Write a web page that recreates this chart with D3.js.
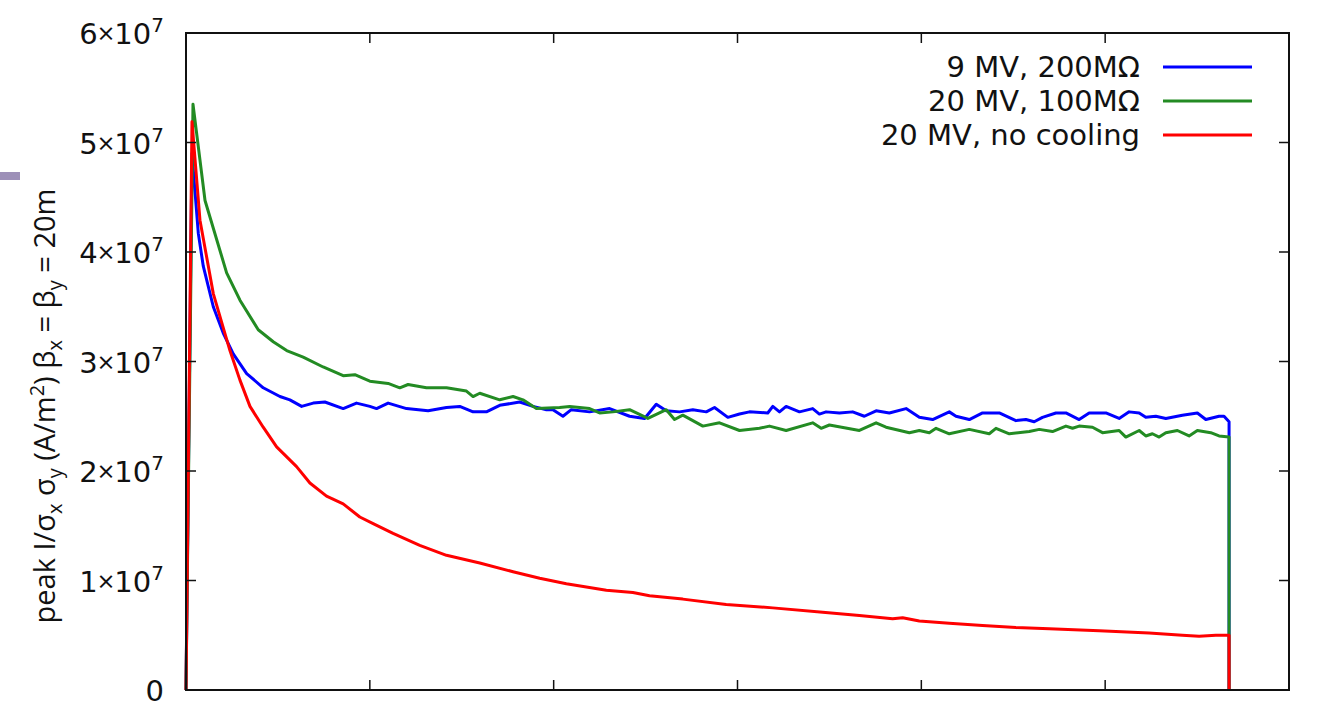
<!DOCTYPE html>
<html>
<head>
<meta charset="utf-8">
<script src="https://cdn.jsdelivr.net/npm/d3@7"></script>
<style>
  body { margin: 0; background: #fff; }
  text { font-family: "DejaVu Sans", sans-serif; fill: #111; }
</style>
</head>
<body>
<svg id="chart" width="1324" height="705"></svg>
<script>
// chart values (x in arbitrary units, y in units of 1e7 A/m^2)
const seriesNames = ["9 MV, 200MΩ", "20 MV, 100MΩ", "20 MV, no cooling"];
const seriesColors = ["#0000ff", "#238b23", "#ff0000"];

const blueX = [0, 6.5, 13.4, 18.8, 29.7, 40.5, 51.4, 66, 84, 102.2, 113, 125.8, 138.4, 151.1, 171, 185.5, 200, 207.3, 219.9, 239.9, 263.4, 283.4, 297.8, 312.3, 326.8, 341.3, 363, 377.5, 392.1, 399.2, 410.1, 419.2, 439.1, 460.9, 482.6, 498.9, 511.6, 522.5, 537, 551.4, 566, 575, 589.5, 602.2, 613, 632.9, 638.4, 645.7, 652.9, 667.4, 681.8, 689.1, 696.4, 710.9, 725.3, 738, 750.8, 765.2, 783.4, 797.8, 812.3, 830.4, 837.7, 852.2, 866.6, 884.8, 902.9, 913.8, 922.8, 931.8, 946.4, 957.3, 971.7, 982.6, 1000.8, 1015.2, 1026.1, 1037, 1044.2, 1055.1, 1066, 1084, 1100.3, 1109.5, 1123.9, 1129.3, 1134.8, 1134.8];
const blueY = [0, 4.9, 4.17, 3.87, 3.5, 3.26, 3.07, 2.89, 2.76, 2.68, 2.65, 2.59, 2.62, 2.63, 2.57, 2.62, 2.59, 2.57, 2.62, 2.57, 2.55, 2.58, 2.59, 2.54, 2.54, 2.6, 2.63, 2.59, 2.56, 2.56, 2.5, 2.56, 2.54, 2.57, 2.5, 2.48, 2.61, 2.55, 2.54, 2.56, 2.54, 2.58, 2.49, 2.52, 2.54, 2.53, 2.59, 2.54, 2.59, 2.54, 2.57, 2.52, 2.54, 2.53, 2.54, 2.5, 2.55, 2.53, 2.57, 2.49, 2.47, 2.54, 2.5, 2.47, 2.53, 2.53, 2.46, 2.47, 2.45, 2.49, 2.53, 2.53, 2.47, 2.53, 2.53, 2.48, 2.54, 2.53, 2.49, 2.5, 2.48, 2.51, 2.53, 2.47, 2.5, 2.5, 2.45, 0];

const greenX = [0, 7.6, 20.7, 44.2, 58.7, 78.6, 94.9, 109.5, 127.5, 149.2, 171, 183.7, 200, 219.9, 232.6, 241.6, 261.6, 283.4, 305.1, 312.3, 319.6, 341.3, 355.8, 366.6, 381.2, 406.5, 417.4, 439.1, 450, 464.5, 482.6, 502.5, 522.5, 531.5, 540.5, 562.3, 580.4, 602.2, 623.9, 634.8, 652.9, 681.8, 691, 700, 732.6, 750.8, 761.6, 787, 797.8, 808.7, 816, 830.4, 852.2, 873.9, 881.2, 895.7, 917.4, 928.3, 942.7, 957.3, 964.5, 971.7, 986.2, 997.1, 1015.2, 1022.5, 1037, 1044.2, 1051.4, 1058.7, 1066, 1078.6, 1091.3, 1100.3, 1114.9, 1123.9, 1134.8, 1134.8];
const greenY = [0, 5.35, 4.47, 3.81, 3.56, 3.29, 3.18, 3.1, 3.04, 2.95, 2.87, 2.88, 2.82, 2.8, 2.76, 2.79, 2.76, 2.76, 2.73, 2.68, 2.71, 2.65, 2.68, 2.65, 2.57, 2.58, 2.59, 2.57, 2.53, 2.54, 2.56, 2.48, 2.56, 2.47, 2.51, 2.41, 2.44, 2.37, 2.39, 2.41, 2.37, 2.44, 2.39, 2.42, 2.37, 2.44, 2.4, 2.35, 2.37, 2.35, 2.39, 2.34, 2.38, 2.34, 2.39, 2.34, 2.36, 2.38, 2.36, 2.41, 2.39, 2.41, 2.4, 2.35, 2.37, 2.31, 2.37, 2.32, 2.34, 2.31, 2.35, 2.37, 2.32, 2.37, 2.35, 2.32, 2.31, 0];

const redX = [0, 6.5, 15.2, 29.7, 47.8, 58.7, 69.6, 84, 98.6, 120.3, 134.8, 152.9, 171, 189.1, 203.6, 225.3, 254.3, 283.4, 319.6, 355.8, 384.8, 413.8, 457.3, 486.2, 504.3, 540.5, 587.7, 638.4, 692.7, 732.6, 768.8, 779.7, 797.8, 830.4, 866.6, 902.9, 939.1, 993.5, 1047.8, 1084, 1102.2, 1120.4, 1134.8, 1134.8];
const redY = [0, 5.19, 4.29, 3.62, 3.1, 2.83, 2.59, 2.4, 2.22, 2.04, 1.89, 1.77, 1.7, 1.58, 1.52, 1.43, 1.32, 1.23, 1.16, 1.08, 1.02, 0.97, 0.91, 0.89, 0.86, 0.83, 0.78, 0.75, 0.71, 0.68, 0.65, 0.66, 0.63, 0.61, 0.59, 0.57, 0.56, 0.54, 0.52, 0.5, 0.49, 0.5, 0.5, 0];

const yTicks = [0, 1, 2, 3, 4, 5, 6];
const xTicks = [200, 400, 600, 800, 1000];

const margin = { top: 33, right: 35, bottom: 15, left: 186 };
const W = 1324, H = 705;

const svg = d3.select("#chart");

const x = d3.scaleLinear().domain([0, 1200]).range([margin.left, W - margin.right]);
const y = d3.scaleLinear().domain([0, 6]).range([H - margin.bottom, margin.top]);

// little slide mark on the left edge
svg.append("rect").attr("x", 0).attr("y", 172).attr("width", 20).attr("height", 8).attr("fill", "#9d90b8");

// data lines: blue, then green, then red on top
const series = [
  { xs: blueX, ys: blueY },
  { xs: greenX, ys: greenY },
  { xs: redX, ys: redY }
];
const line = d3.line().x(d => x(d[0])).y(d => y(d[1]));
series.forEach((s, i) => {
  svg.append("path")
    .datum(d3.zip(s.xs, s.ys))
    .attr("d", line)
    .attr("fill", "none")
    .attr("stroke", seriesColors[i])
    .attr("stroke-width", 3)
    .attr("stroke-linejoin", "round");
});

// frame
svg.append("rect")
  .attr("x", x(0)).attr("y", y(6))
  .attr("width", x(1200) - x(0)).attr("height", y(0) - y(6))
  .attr("fill", "none").attr("stroke", "#111").attr("stroke-width", 2);

// inward ticks on all four sides
const tickLen = 10;
const ax = svg.append("g").attr("stroke", "#111").attr("stroke-width", 1.5);
yTicks.slice(1, -1).forEach(t => {
  ax.append("line").attr("x1", x(0)).attr("x2", x(0) + tickLen).attr("y1", y(t)).attr("y2", y(t));
  ax.append("line").attr("x1", x(1200)).attr("x2", x(1200) - tickLen).attr("y1", y(t)).attr("y2", y(t));
});
xTicks.forEach(t => {
  ax.append("line").attr("x1", x(t)).attr("x2", x(t)).attr("y1", y(0)).attr("y2", y(0) - tickLen);
  ax.append("line").attr("x1", x(t)).attr("x2", x(t)).attr("y1", y(6)).attr("y2", y(6) + tickLen);
});

// y tick labels like gnuplot: 6×10^7
const yl = svg.append("g");
yTicks.forEach(t => {
  const txt = yl.append("text")
    .attr("x", x(0) - 22)
    .attr("y", y(t) + 11)
    .attr("text-anchor", "end")
    .style("font-size", "29px");
  if (t === 0) {
    txt.append("tspan").text("0");
  } else {
    txt.append("tspan").text(t);
    txt.append("tspan").style("font-family", "'Open Sans', sans-serif").text("×");
    txt.append("tspan").text("10");
    txt.append("tspan").attr("dy", -12).style("font-size", "20px").text("7");
  }
});

// y axis title
const yt = svg.append("text")
  .attr("transform", "translate(55,406) rotate(-90)")
  .attr("text-anchor", "middle")
  .style("font-family", "'Open Sans', sans-serif")
  .style("font-size", "29px");
const subFs = "20px";
yt.append("tspan").text("peak I/σ");
yt.append("tspan").attr("dy", 7).style("font-size", subFs).text("x");
yt.append("tspan").attr("dy", -7).text(" σ");
yt.append("tspan").attr("dy", 7).style("font-size", subFs).text("y");
yt.append("tspan").attr("dy", -7).text(" (A/m");
yt.append("tspan").attr("dy", -11).style("font-size", subFs).text("2");
yt.append("tspan").attr("dy", 11).text(") β");
yt.append("tspan").attr("dy", 7).style("font-size", subFs).text("x");
yt.append("tspan").attr("dy", -7).text(" = β");
yt.append("tspan").attr("dy", 7).style("font-size", subFs).text("y");
yt.append("tspan").attr("dy", -7).text(" = 20m");

// legend
const leg = svg.append("g");
seriesNames.forEach((name, i) => {
  const ly = 67 + i * 34;
  leg.append("text")
    .attr("x", 1140).attr("y", ly + 10)
    .attr("text-anchor", "end")
    .style("font-size", "29px")
    .text(name);
  leg.append("line")
    .attr("x1", 1163).attr("x2", 1252)
    .attr("y1", ly).attr("y2", ly)
    .attr("stroke", seriesColors[i]).attr("stroke-width", 3);
});
</script>
</body>
</html>
